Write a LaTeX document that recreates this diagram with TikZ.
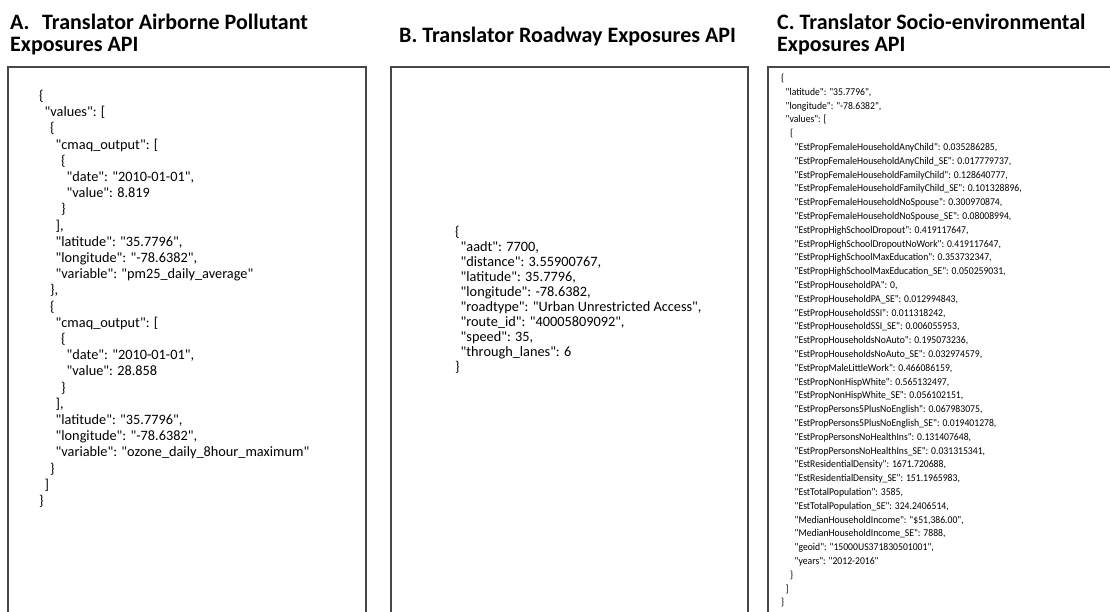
\documentclass[tikz,border=0pt]{standalone}
\usepackage{fontspec}
\setmainfont{Carlito}
\newfontfamily\jf{Carlito}
\newfontfamily\jfc{Carlito}[FakeStretch=0.93]
\newlength\indw
\newcommand\lv[1]{\hspace*{#1\indw}}
\begin{document}
\begin{tikzpicture}[x=1pt,y=-1pt,
  panel/.style={draw=black!72, line width=1.3pt},
  ttl/.style={font=\bfseries\fontsize{22}{26}\selectfont, inner sep=0pt, anchor=base west},
  json/.style={inner sep=0pt, anchor=base west, align=left}]
\useasboundingbox (0,0) rectangle (1110,611);
\clip (0,0) rectangle (1110,611);
% titles
\node[ttl] (titleA1) at (10,29) {\makebox[32pt][l]{A.}Translator Airborne Pollutant};
\node[ttl] (titleA2) at (10,51) {Exposures API};
\node[ttl] (titleB) at (399,42) {B. Translator Roadway Exposures API};
\node[ttl] (titleC1) at (777,29) {C. Translator Socio-environmental};
\node[ttl] (titleC2) at (777,51) {Exposures API};
% panels
\draw[panel] (8,630) -- (8,67) -- (366,67) -- (366,630);
\draw[panel] (391,630) -- (391,67) -- (748,67) -- (748,630);
\draw[panel] (768,630) -- (768,67) -- (1120,67);
% panel A text
\node[json] (jsonA) at (39,100.5) {\jf\fontsize{14.3}{16.2}\selectfont\setlength\indw{5.5pt}%
\begin{tabular}[t]{@{}l@{}}
\lv0\{\\
\lv1"values": [\\
\lv2\{\\
\lv3"cmaq\_output": [\\
\lv4\{\\
\lv5"date": "2010-01-01",\\
\lv5"value": 8.819\\
\lv4\}\\
\lv3],\\
\lv3"latitude": "35.7796",\\
\lv3"longitude": "-78.6382",\\
\lv3"variable": "pm25\_daily\_average"\\
\lv2\},\\
\lv2\{\\
\lv3"cmaq\_output": [\\
\lv4\{\\
\lv5"date": "2010-01-01",\\
\lv5"value": 28.858\\
\lv4\}\\
\lv3],\\
\lv3"latitude": "35.7796",\\
\lv3"longitude": "-78.6382",\\
\lv3"variable": "ozone\_daily\_8hour\_maximum"\\
\lv2\}\\
\lv1]\\
\lv0\}
\end{tabular}};
% panel B text
\node[json] (jsonB) at (455,236.5) {\jf\fontsize{14.3}{15}\selectfont\setlength\indw{5.5pt}%
\begin{tabular}[t]{@{}l@{}}
\lv0\{\\
\lv1"aadt": 7700,\\
\lv1"distance": 3.55900767,\\
\lv1"latitude": 35.7796,\\
\lv1"longitude": -78.6382,\\
\lv1"roadtype": "Urban Unrestricted Access",\\
\lv1"route\_id": "40005809092",\\
\lv1"speed": 35,\\
\lv1"through\_lanes": 6\\
\lv0\}
\end{tabular}};
% panel C text
\node[json] (jsonC) at (781,81.5) {\jfc\fontsize{10.4}{13.8}\selectfont\setlength\indw{4.5pt}%
\begin{tabular}[t]{@{}l@{}}
\lv0\{\\
\lv1"latitude": "35.7796",\\
\lv1"longitude": "-78.6382",\\
\lv1"values": [\\
\lv2\{\\
\lv3"EstPropFemaleHouseholdAnyChild": 0.035286285,\\
\lv3"EstPropFemaleHouseholdAnyChild\_SE": 0.017779737,\\
\lv3"EstPropFemaleHouseholdFamilyChild": 0.128640777,\\
\lv3"EstPropFemaleHouseholdFamilyChild\_SE": 0.101328896,\\
\lv3"EstPropFemaleHouseholdNoSpouse": 0.300970874,\\
\lv3"EstPropFemaleHouseholdNoSpouse\_SE": 0.08008994,\\
\lv3"EstPropHighSchoolDropout": 0.419117647,\\
\lv3"EstPropHighSchoolDropoutNoWork": 0.419117647,\\
\lv3"EstPropHighSchoolMaxEducation": 0.353732347,\\
\lv3"EstPropHighSchoolMaxEducation\_SE": 0.050259031,\\
\lv3"EstPropHouseholdPA": 0,\\
\lv3"EstPropHouseholdPA\_SE": 0.012994843,\\
\lv3"EstPropHouseholdSSI": 0.011318242,\\
\lv3"EstPropHouseholdSSI\_SE": 0.006055953,\\
\lv3"EstPropHouseholdsNoAuto": 0.195073236,\\
\lv3"EstPropHouseholdsNoAuto\_SE": 0.032974579,\\
\lv3"EstPropMaleLittleWork": 0.466086159,\\
\lv3"EstPropNonHispWhite": 0.565132497,\\
\lv3"EstPropNonHispWhite\_SE": 0.056102151,\\
\lv3"EstPropPersons5PlusNoEnglish": 0.067983075,\\
\lv3"EstPropPersons5PlusNoEnglish\_SE": 0.019401278,\\
\lv3"EstPropPersonsNoHealthIns": 0.131407648,\\
\lv3"EstPropPersonsNoHealthIns\_SE": 0.031315341,\\
\lv3"EstResidentialDensity": 1671.720688,\\
\lv3"EstResidentialDensity\_SE": 151.1965983,\\
\lv3"EstTotalPopulation": 3585,\\
\lv3"EstTotalPopulation\_SE": 324.2406514,\\
\lv3"MedianHouseholdIncome": "\$51,386.00",\\
\lv3"MedianHouseholdIncome\_SE": 7888,\\
\lv3"geoid": "15000US371830501001",\\
\lv3"years": "2012-2016"\\
\lv2\}\\
\lv1]\\
\lv0\}
\end{tabular}};
\end{tikzpicture}
\end{document}
